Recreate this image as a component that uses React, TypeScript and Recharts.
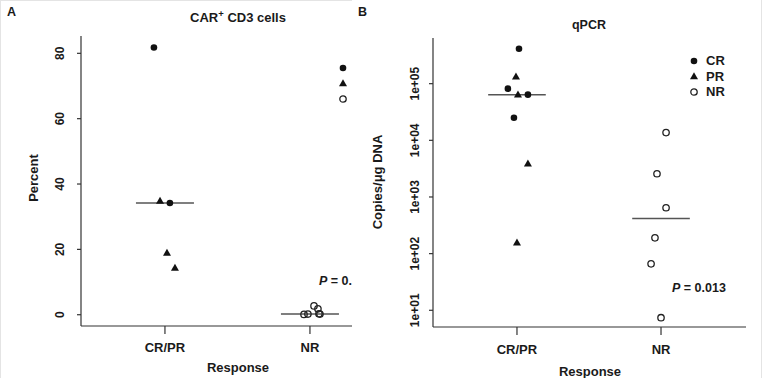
import { ScatterChart, Scatter, XAxis, YAxis, ReferenceLine, Legend } from 'recharts';

const groups = ['CR/PR', 'NR'];
const legendOrder = ['CR', 'PR', 'NR'];

// panel A: CAR+ CD3 cells (percent)
const aCrValues = [81.8, 34.2];
const aCrJitter = [-0.076, 0.034];
const aPrValues = [34.8, 18.9, 14.3];
const aPrJitter = [-0.034, 0.014, 0.069];
const aNrValues = [0.1, 0.2, 2.7, 1.8, 0.2, 0.3];
const aNrJitter = [-0.041, -0.014, 0.028, 0.055, 0.069, 0.062];
const aMedians = [34.2, 0.25];
const aTicks = [0, 20, 40, 60, 80];
const aPText = '0.'; // cut off in the figure

// panel B: qPCR (copies/ug DNA)
const bCrValues = [414000, 81700, 64000, 25100];
const bCrJitter = [0.014, -0.063, 0.076, -0.021];
const bPrValues = [133000, 64000, 3880, 156];
const bPrJitter = [-0.007, 0.007, 0.076, 0];
const bNrValues = [13700, 2570, 645, 190, 66, 7.4];
const bNrJitter = [0.035, -0.028, 0.035, -0.042, -0.069, 0];
const bMedians = [64000, 418];
const bTicks = [10, 100, 1000, 10000, 100000];
const bPText = '0.013';

const FONT = '"Liberation Sans", Arial, sans-serif';
const INK = '#1a1a1a';
const AXIS = { stroke: '#333', strokeWidth: 1.2 };

const toPoints = (values: number[], jitter: number[], g: number) =>
  values.map((v, i) => ({ x: g + jitter[i], y: v }));

const Dot = (p: any) => <circle cx={p.cx} cy={p.cy} r={3.3} fill="#111" />;
const Tri = (p: any) => (
  <polygon
    points={`${p.cx},${p.cy - 4.2} ${p.cx - 4},${p.cy + 2.8} ${p.cx + 4},${p.cy + 2.8}`}
    fill="#111"
  />
);
const Ring = (p: any) => (
  <circle cx={p.cx} cy={p.cy} r={3.2} fill="none" stroke="#222" strokeWidth={1.3} />
);

const symbolFor = (name: string) => {
  if (name === 'CR') return <Dot cx={5} cy={5} />;
  if (name === 'PR') return <Tri cx={5} cy={5.5} />;
  return <Ring cx={5} cy={5} />;
};

const makeLegend = (showText: boolean) => (props: any) => {
  const items = [...(props.payload || [])].sort(
    (a: any, b: any) => legendOrder.indexOf(a.value) - legendOrder.indexOf(b.value)
  );
  return (
    <div>
      {items.map((entry: any) => (
        <div key={entry.value} style={{ display: 'flex', alignItems: 'center', height: 15.5 }}>
          <svg width={10} height={10}>{symbolFor(entry.value)}</svg>
          {showText && (
            <span style={{ marginLeft: 7, fontWeight: 'bold', fontSize: 13, color: INK, fontFamily: FONT, whiteSpace: 'nowrap' }}>
              {entry.value}
            </span>
          )}
        </div>
      ))}
    </div>
  );
};

const XTick = (p: any) => (
  <text x={p.x} y={p.y + 11} dy="0.35em" textAnchor="middle" fontFamily={FONT} fontWeight="bold" fontSize={13} fill={INK}>
    {groups[Math.round(p.payload.value) - 1]}
  </text>
);

const makeYTick = (shift: number, fmt: (v: number) => string) => (p: any) => {
  const cx = p.x - shift;
  return (
    <text x={cx} y={p.y} dy="0.35em" textAnchor="middle" transform={`rotate(-90, ${cx}, ${p.y})`}
      fontFamily={FONT} fontWeight="bold" fontSize={12} fill={INK}>
      {fmt(p.payload.value)}
    </text>
  );
};

const logFmt = (v: number) => {
  const e = Math.round(Math.log10(v));
  return `1e+${String(e).padStart(2, '0')}`;
};

const label = (style: React.CSSProperties, text: React.ReactNode) => (
  <div style={{ position: 'absolute', fontFamily: FONT, fontWeight: 'bold', color: INK, whiteSpace: 'nowrap', lineHeight: 1, ...style }}>
    {text}
  </div>
);

const vlabel = (left: number, top: number, text: string) => (
  <div style={{ position: 'absolute', left, top, width: 0, height: 0 }}>
    <div style={{ position: 'absolute', transform: 'translate(-50%, -50%) rotate(-90deg)', fontFamily: FONT, fontWeight: 'bold', fontSize: 13, color: INK, whiteSpace: 'nowrap', lineHeight: 1 }}>
      {text}
    </div>
  </div>
);

const centered = (left: number, top: number, size: number, text: React.ReactNode) => (
  <div style={{ position: 'absolute', left, top, width: 0, height: 0 }}>
    <div style={{ position: 'absolute', transform: 'translate(-50%, -50%)', fontFamily: FONT, fontWeight: 'bold', fontSize: size, color: INK, whiteSpace: 'nowrap', lineHeight: 1 }}>
      {text}
    </div>
  </div>
);

function PanelA() {
  return (
    <div style={{ position: 'absolute', left: 0, top: 0, width: 352, height: 378, overflow: 'hidden', boxShadow: 'inset 1px 1px 0 #e4e4e4' }}>
      <ScatterChart width={352} height={378} margin={{ top: 36, right: 0, bottom: 22, left: 30 }}>
        <XAxis type="number" dataKey="x" domain={[0.421, 2.29]} ticks={[1, 2]} allowDataOverflow
          axisLine={AXIS} tickLine={AXIS} tickSize={8} tickMargin={2} height={30} tick={<XTick />} />
        <YAxis type="number" dataKey="y" domain={[-3.45, 85.3]} ticks={aTicks} allowDataOverflow
          axisLine={AXIS} tickLine={AXIS} tickSize={4} tickMargin={2} width={51}
          tick={makeYTick(15, (v) => String(v))} />
        {aMedians.map((m, i) => (
          <ReferenceLine key={i} segment={[{ x: i + 1 - 0.2, y: m }, { x: i + 1 + 0.2, y: m }]} stroke="#555" strokeWidth={1.5} />
        ))}
        <Scatter name="CR" data={toPoints(aCrValues, aCrJitter, 1)} shape={Dot} isAnimationActive={false} />
        <Scatter name="PR" data={toPoints(aPrValues, aPrJitter, 1)} shape={Tri} isAnimationActive={false} />
        <Scatter name="NR" data={toPoints(aNrValues, aNrJitter, 2)} shape={Ring} isAnimationActive={false} />
        <Legend layout="vertical" align="center" verticalAlign="middle" content={makeLegend(false)}
          wrapperStyle={{ left: 338, top: 60, width: 12, height: 50 }} />
      </ScatterChart>
      {label({ left: 7, top: 6, fontSize: 12.5 }, 'A')}
      {centered(238, 17, 13, <span>CAR<sup style={{ fontSize: 9.5, verticalAlign: 'top', position: 'relative', top: -2 }}>+</sup> CD3 cells</span>)}
      {vlabel(33, 178, 'Percent')}
      {centered(238, 367, 13, 'Response')}
      {label({ left: 319, top: 275, fontSize: 12.5 }, <span><i>P</i> = {aPText}</span>)}
    </div>
  );
}

function PanelB() {
  return (
    <div style={{ position: 'absolute', left: 356, top: 0, width: 406, height: 378, overflow: 'hidden' }}>
      <ScatterChart width={406} height={378} margin={{ top: 38, right: 16, bottom: 21, left: 30 }}>
        <XAxis type="number" dataKey="x" domain={[0.417, 2.59]} ticks={[1, 2]} allowDataOverflow
          axisLine={AXIS} tickLine={AXIS} tickSize={8} tickMargin={3} height={30} tick={<XTick />} />
        <YAxis type="number" dataKey="y" scale="log" domain={[5.07, 640000]} ticks={bTicks} allowDataOverflow
          axisLine={AXIS} tickLine={AXIS} tickSize={4} tickMargin={2} width={47}
          tick={makeYTick(12, logFmt)} />
        {bMedians.map((m, i) => (
          <ReferenceLine key={i} segment={[{ x: i + 1 - 0.2, y: m }, { x: i + 1 + 0.2, y: m }]} stroke="#555" strokeWidth={1.5} />
        ))}
        <Scatter name="CR" data={toPoints(bCrValues, bCrJitter, 1)} shape={Dot} isAnimationActive={false} />
        <Scatter name="PR" data={toPoints(bPrValues, bPrJitter, 1)} shape={Tri} isAnimationActive={false} />
        <Scatter name="NR" data={toPoints(bNrValues, bNrJitter, 2)} shape={Ring} isAnimationActive={false} />
        <Legend layout="vertical" align="center" verticalAlign="middle" content={makeLegend(true)}
          wrapperStyle={{ left: 333, top: 53, width: 60, height: 50 }} />
      </ScatterChart>
      {label({ left: 2, top: 6, fontSize: 12.5 }, 'B')}
      {centered(233, 25, 12.5, 'qPCR')}
      {vlabel(21, 182, 'Copies/\u03bcg DNA')}
      {centered(234, 371, 13, 'Response')}
      {label({ left: 316, top: 282, fontSize: 12.5 }, <span><i>P</i> = {bPText}</span>)}
    </div>
  );
}

export default function App() {
  return (
    <div style={{ position: 'absolute', left: 0, top: 0, width: 762, height: 378, background: '#fff', overflow: 'hidden', boxShadow: 'inset -1px 0 0 #e4e4e4' }}>
      <PanelA />
      <PanelB />
    </div>
  );
}
